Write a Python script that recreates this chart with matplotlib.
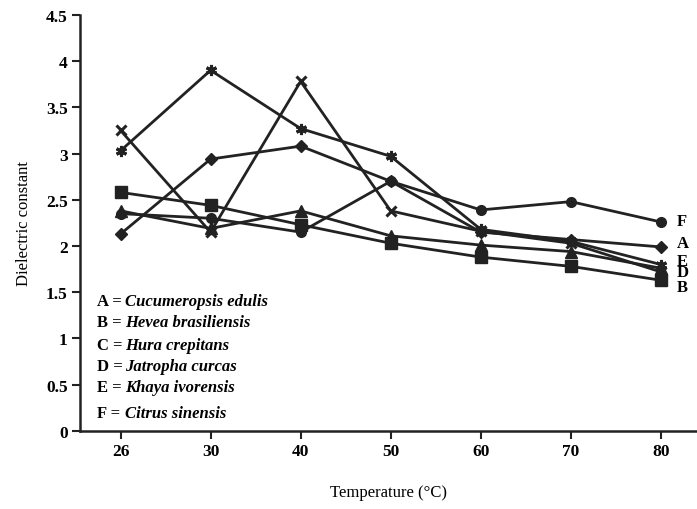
import matplotlib
matplotlib.use("Agg")
import matplotlib.pyplot as plt

temps = ["26", "30", "40", "50", "60", "70", "80"]
A_cucumeropsis = [2.13, 2.94, 3.08, 2.70, 2.15, 2.07, 1.99]
B_hevea = [2.58, 2.44, 2.23, 2.03, 1.88, 1.78, 1.63]
C_hura = [2.38, 2.19, 2.38, 2.11, 2.01, 1.94, 1.76]
D_jatropha = [3.25, 2.15, 3.78, 2.38, 2.16, 2.03, 1.72]
E_khaya = [3.03, 3.90, 3.27, 2.97, 2.18, 2.05, 1.80]
F_citrus = [2.35, 2.30, 2.15, 2.70, 2.39, 2.48, 2.26]
end_letters = ["A", "B", "C", "D", "E", "F"]
end_label_y = [2.03, 1.56, 1.66, 1.72, 1.84, 2.27]
legend_lines = [("A", "Cucumeropsis edulis"), ("B", "Hevea brasiliensis"),
                ("C", "Hura crepitans"), ("D", "Jatropha curcas"),
                ("E", "Khaya ivorensis"), ("F", "Citrus sinensis")]

plt.rcParams['font.family'] = ['Liberation Serif', 'DejaVu Serif']
col = '#222222'

fig = plt.figure(figsize=(6.97, 5.10), dpi=100)
ax = fig.add_axes([0.1148, 0.153, 0.885, 0.816])

x = list(range(len(temps)))
series = [A_cucumeropsis, B_hevea, C_hura, D_jatropha, E_khaya, F_citrus]
markers = [('D', 6, 1), ('s', 8, 1), ('^', 8, 1), ('x', 7, 2.2), ((6, 2, 0), 8, 2.2), ('o', 7, 1)]
for ys, (m, ms, mew) in zip(series, markers):
    ax.plot(x, ys, color=col, lw=2, marker=m, markersize=ms, markeredgewidth=mew,
            markerfacecolor=col, markeredgecolor=col)

for letter, yv in zip(end_letters, end_label_y):
    if letter == "C":
        continue
    ax.text(6.18, yv, letter, fontsize=12, fontweight='bold', color='black',
            va='center', ha='left')

legend_y = [1.40, 1.18, 0.93, 0.70, 0.48, 0.19]
for (letter, name), yv in zip(legend_lines, legend_y):
    ax.text(-0.26, yv, f"{letter} = ", fontsize=12, fontweight='bold', va='center', ha='left')
    ax.text(-0.26 + 0.31, yv, name, fontsize=12, fontweight='bold', fontstyle='italic',
            va='center', ha='left')

ax.set_xlim(-0.45, 6.4)
ax.set_ylim(0, 4.5)
ax.set_xticks(x)
ax.set_xticklabels(temps)
ax.set_yticks([0, 0.5, 1, 1.5, 2, 2.5, 3, 3.5, 4, 4.5])
ax.set_yticklabels(["0", "0.5", "1", "1.5", "2", "2.5", "3", "3.5", "4", "4.5"])
for sp in ['top', 'right']:
    ax.spines[sp].set_visible(False)
for sp in ['left', 'bottom']:
    ax.spines[sp].set_linewidth(1.8)
    ax.spines[sp].set_color(col)
ax.tick_params(axis='both', direction='out', length=6, width=1.5, color=col,
               labelsize=12.5, pad=3)
for lab in ax.get_xticklabels() + ax.get_yticklabels():
    lab.set_fontweight('bold')
ax.set_xlabel("Temperature (°C)", fontsize=12, labelpad=18)
ax.set_ylabel("Dielectric constant", fontsize=12, labelpad=10)

fig.savefig("out.png", dpi=100)
